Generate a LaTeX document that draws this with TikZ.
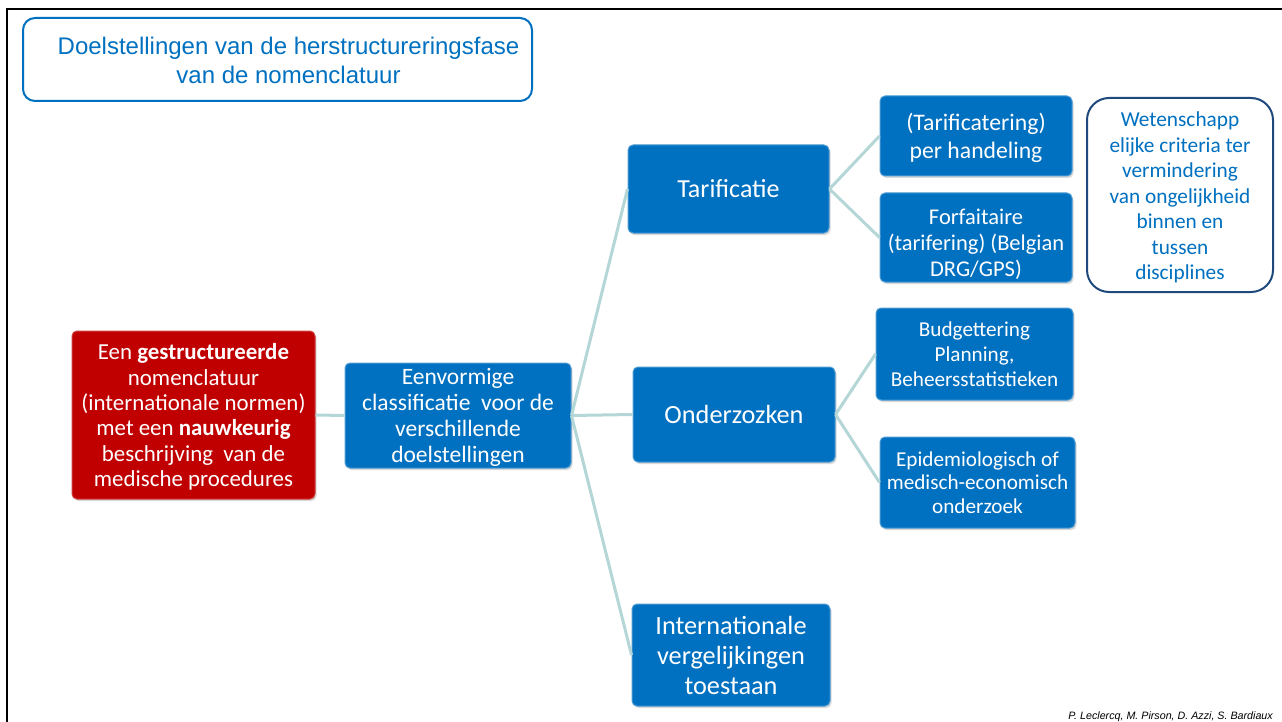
\documentclass[tikz,border=0pt]{standalone}
\usepackage{fontspec}
\setmainfont{Carlito}
\newfontfamily\arialfont{Liberation Sans}
\usetikzlibrary{shadows}
\definecolor{tabblauw}{RGB}{0,112,192}
\definecolor{tabrood}{RGB}{192,0,0}
\definecolor{tablijn}{RGB}{180,214,214}
\definecolor{tabnavy}{RGB}{31,73,125}

\begin{document}
\begin{tikzpicture}[
      x=1pt, y=-1pt,
      box/.style={rounded corners=5pt, align=center, text=white, inner sep=1pt,
        drop shadow={opacity=0.3, shadow xshift=1.5pt, shadow yshift=-2pt}},
      blauw/.style={box, fill=tabblauw, draw=tabblauw!70!white, line width=1pt},
      rood/.style={box, fill=tabrood, draw=tabrood!75!white, line width=1pt},
      tak/.style={draw=tablijn, line width=3pt},
      fs/.style 2 args={font=\fontsize{#1}{#2}\selectfont}
    ]
    \useasboundingbox (0,0) rectangle (1282,722);
    \draw[line width=2.5pt] (7,722) -- (7,9) -- (1282,9);

    \node[draw=tabblauw, line width=2pt, rounded corners=12pt, minimum width=509pt, minimum height=83pt,
      label={[text=tabblauw, align=center, xshift=11pt, yshift=-1pt, font=\arialfont\fontsize{24}{29}\selectfont]center:
        Doelstellingen van de herstructureringsfase\\van de nomenclatuur}]
      (titel) at (277.5,59.5) {};

    \node[rood, minimum width=243pt, minimum height=168pt, fs={22.9}{25.4}] (nom) at (193.5,415)
      {\rule{0pt}{20pt}Een \textbf{gestructureerde}\\nomenclatuur\\(internationale normen)\\met een \textbf{nauwkeurig}\\beschrijving\ \ van de\\medische procedures};

    \node[blauw, minimum width=226pt, minimum height=105pt, fs={23.5}{25.8}] (klas) at (458,415.5)
      {\rule{0pt}{20pt}Eenvormige\\classificatie\ \ voor de\\verschillende\\doelstellingen};

    \node[blauw, minimum width=201pt, minimum height=88pt, fs={26}{30}] (tarif) at (728.5,189) {Tarificatie};
    \node[blauw, minimum width=202pt, minimum height=95pt, fs={26.3}{30}] (onder) at (734,414.5) {Onderzozken};
    \node[blauw, minimum width=198pt, minimum height=102pt, fs={26.3}{30}] (intl) at (731,655)
      {Internationale\\vergelijkingen\\toestaan};

    \node[blauw, minimum width=192pt, minimum height=80pt, fs={23.7}{28}] (hand) at (976,136)
      {\rule{0pt}{22pt}(Tarificatering)\\per handeling};
    \node[blauw, minimum width=192pt, minimum height=89pt, fs={22.5}{26}] (forf) at (976,237.5)
      {\rule{0pt}{30pt}Forfaitaire\\(tarifering) (Belgian\\DRG/GPS)};
    \node[blauw, minimum width=197pt, minimum height=92pt, fs={21.2}{25}] (budg) at (974.5,354)
      {Budgettering\\Planning,\\Beheersstatistieken};
    \node[blauw, minimum width=195pt, minimum height=91pt, fs={21.2}{23.5}] (epid) at (977.5,482.5)
      {Epidemiologisch of\\medisch-economisch\\onderzoek};

    \node[draw=tabnavy, line width=2pt, rounded corners=22pt, fill=white, text=tabblauw, align=center,
      minimum width=186pt, minimum height=194pt, fs={21.3}{25.5}] (wet) at (1180,195)
      {\rule{0pt}{20pt}Wetenschapp\\elijke criteria ter\\vermindering\\van ongelijkheid\\binnen en\\tussen\\disciplines};

    \draw[tak] (nom.east) -- (klas.west);
    \draw[tak] (klas.east) -- (tarif.west);
    \draw[tak] (klas.east) -- (onder.west);
    \draw[tak] (klas.east) -- (intl.west);
    \draw[tak] (tarif.east) -- (hand.west);
    \draw[tak] (tarif.east) -- (forf.west);
    \draw[tak] (onder.east) -- (budg.west);
    \draw[tak] (onder.east) -- (epid.west);

    \node[anchor=base east, inner sep=0pt, font=\arialfont\itshape\fontsize{10.7}{12}\selectfont]
      (bron) at (1273,719) {P. Leclercq, M. Pirson, D. Azzi, S. Bardiaux};
  \end{tikzpicture}
\end{document}
